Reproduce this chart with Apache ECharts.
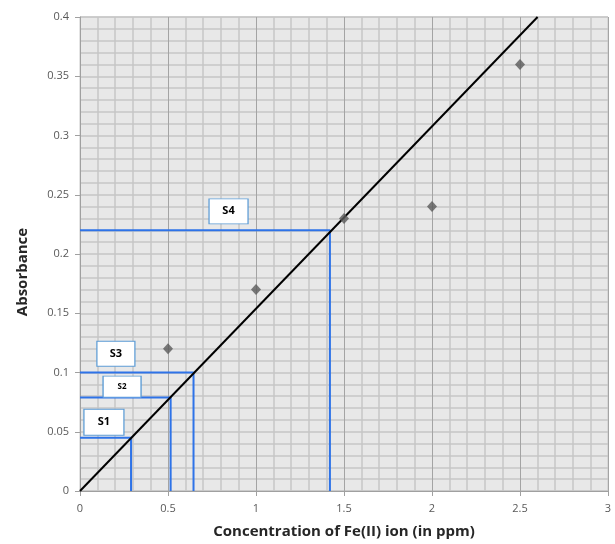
<!DOCTYPE html>
<html>
<head>
<meta charset="utf-8">
<script src="https://cdn.jsdelivr.net/npm/echarts@6/dist/echarts.min.js"></script>
<style>
html,body{margin:0;padding:0;background:#fff;}
#chart{width:615px;height:544px;}
</style>
</head>
<body>
<div id="chart"></div>
<script>
// Measured data points
const concentration = [0.5, 1, 1.5, 2, 2.5];
const absorbance = [0.12, 0.17, 0.23, 0.24, 0.36];

// Calibration (trend) line endpoints
const trendX = [0, 2.6];
const trendY = [0, 0.4];

// Sample read-offs
const sampleNames = ['S1', 'S2', 'S3', 'S4'];
const sampleConc = [0.29, 0.515, 0.645, 1.42];
const sampleAbs = [0.045, 0.079, 0.1, 0.22];

// Label box anchor positions (data coords)
const labelX = [0.136, 0.239, 0.204, 0.844];
const labelY = [0.058, 0.088, 0.1158, 0.236];

const xTicks = [0, 0.5, 1, 1.5, 2, 2.5, 3];
const yTicks = [0, 0.05, 0.1, 0.15, 0.2, 0.25, 0.3, 0.35, 0.4];

const chart = echarts.init(document.getElementById('chart'));

const blue = '#2e73e8';
const series = [];

// blue read-off lines
sampleNames.forEach((n, i) => {
  series.push({
    type: 'line',
    data: [[0, sampleAbs[i]], [sampleConc[i], sampleAbs[i]], [sampleConc[i], 0]],
    symbol: 'none',
    lineStyle: {color: blue, width: 2},
    z: 3,
    silent: true
  });
});

// trendline
series.push({
  type: 'line',
  data: trendX.map((x, i) => [x, trendY[i]]),
  symbol: 'none',
  lineStyle: {color: '#000', width: 2},
  z: 4,
  silent: true
});

// data points
series.push({
  type: 'scatter',
  data: concentration.map((x, i) => [x, absorbance[i]]),
  symbol: 'diamond',
  symbolSize: [10, 11],
  itemStyle: {color: '#5a5a5a'},
  z: 5
});

// label boxes
const boxSizes = [[40, 26], [38, 21], [38, 25], [39, 25]];
sampleNames.forEach((n, i) => {
  series.push({
    type: 'scatter',
    data: [[labelX[i], labelY[i]]],
    symbol: 'rect',
    symbolSize: boxSizes[i],
    itemStyle: {color: '#ffffff', borderColor: '#5b9bd5', borderWidth: 1, opacity: 1},
    label: {
      show: true,
      position: 'inside',
      formatter: n,
      color: '#000',
      fontWeight: 'bold',
      fontSize: n === 'S2' ? 8 : 11,
      fontFamily: 'Open Sans'
    },
    z: 6
  });
});

chart.setOption({
  animation: false,
  backgroundColor: '#ffffff',
  grid: {
    left: 80, right: 7, top: 17, bottom: 52,
    show: true,
    backgroundColor: '#e8e8e8',
    borderColor: '#c8c8c8',
    borderWidth: 1
  },
  xAxis: {
    type: 'value',
    min: 0, max: 3, interval: 0.5,
    name: 'Concentration of Fe(II) ion (in ppm)',
    nameLocation: 'middle',
    nameGap: 33,
    nameTextStyle: {fontSize: 15, fontWeight: 'bold', color: '#262626', fontFamily: 'Open Sans'},
    axisLine: {show: true, lineStyle: {color: '#a0a0a0', width: 1}},
    axisTick: {show: true, length: 5, lineStyle: {color: '#a0a0a0'}},
    axisLabel: {
      color: '#595959', fontSize: 11, fontFamily: 'Open Sans', margin: 12,
      formatter: v => String(v)
    },
    splitLine: {show: true, lineStyle: {color: '#a4a4a4', width: 1}},
    minorTick: {show: false, splitNumber: 5},
    minorSplitLine: {show: true, lineStyle: {color: '#c6c6c6', width: 1.5}}
  },
  yAxis: {
    type: 'value',
    min: 0, max: 0.4, interval: 0.05,
    name: 'Absorbance',
    nameLocation: 'middle',
    nameGap: 50,
    nameTextStyle: {fontSize: 15, fontWeight: 'bold', color: '#262626', fontFamily: 'Open Sans', padding: [0, 36, 0, 0]},
    axisLine: {show: true, lineStyle: {color: '#a0a0a0', width: 1}},
    axisTick: {show: true, length: 5, lineStyle: {color: '#a0a0a0'}},
    axisLabel: {
      color: '#595959', fontSize: 11, fontFamily: 'Open Sans', margin: 11,
      formatter: v => String(Math.round(v * 100) / 100)
    },
    splitLine: {show: true, lineStyle: {color: '#c6c6c6', width: 1.5}},
    minorTick: {show: false, splitNumber: 5},
    minorSplitLine: {show: true, lineStyle: {color: '#c6c6c6', width: 1.5}}
  },
  series: series
});
</script>
</body>
</html>
